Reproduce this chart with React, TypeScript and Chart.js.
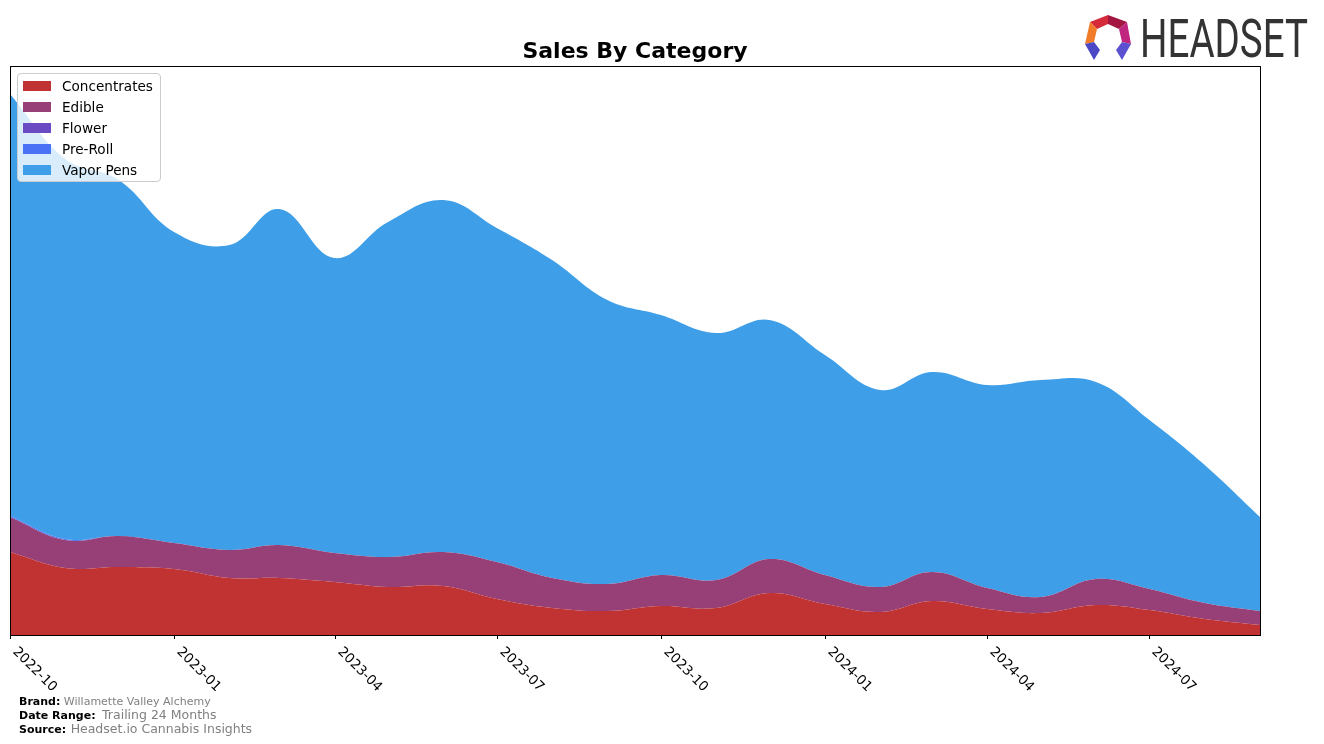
import React, { useEffect, useRef } from "react";
import { Chart, registerables } from "chart.js";

Chart.register(...registerables);

const months = [
  "2022-10", "2022-11", "2022-12", "2023-01", "2023-02", "2023-03",
  "2023-04", "2023-05", "2023-06", "2023-07", "2023-08", "2023-09",
  "2023-10", "2023-11", "2023-12", "2024-01", "2024-02", "2024-03",
  "2024-04", "2024-05", "2024-06", "2024-07", "2024-08", "2024-09",
];
const tickLabels = ["2022-10", "2023-01", "2023-04", "2023-07", "2023-10", "2024-01", "2024-04", "2024-07"];

const concentrates = [83, 67, 68, 66, 57, 57, 53, 48, 49, 36, 27, 24, 29, 27, 42, 31, 23, 34, 26, 22, 30, 25, 16, 10];
const edible = [35, 28, 31, 26, 28, 33, 29, 30, 34, 37, 30, 27, 31, 28, 34, 29, 25, 29, 21, 16, 26, 21, 16, 14];
const flower = [0, 0, 0, 0, 0, 0, 0, 0, 0, 0, 0, 0, 0, 0, 0, 0, 0, 0, 0, 0, 0, 0, 0, 0];
const preRoll = [1, 1, 0, 0, 0, 0, 0, 0, 0, 0, 0, 0, 0, 0, 0, 0, 0, 0, 0, 0, 0, 0, 0, 0];
const vaporPens = [422, 380, 356, 311, 305, 336, 295, 335, 352, 334, 318, 284, 260, 247, 239, 220, 197, 200, 203, 217, 197, 169, 138, 94];

const seriesNames = ["Concentrates", "Edible", "Flower", "Pre-Roll", "Vapor Pens"];
const seriesColors = ["#C13333", "#974077", "#6A4BC4", "#4A72F5", "#3E9FE8"];

const dayOf = (m: string) => {
  const [y, mo] = m.split("-").map(Number);
  return (Date.UTC(y, mo - 1, 1) - Date.UTC(2022, 9, 1)) / 86400000;
};

const framePlugin = {
  id: "frame",
  afterDraw(chart: any) {
    const { ctx, chartArea } = chart;
    const xs = chart.scales.x;
    ctx.save();
    ctx.strokeStyle = "#000";
    ctx.lineWidth = 1;
    ctx.strokeRect(Math.round(chartArea.left) + 0.5, Math.round(chartArea.top) + 0.5,
      Math.round(chartArea.right - chartArea.left), Math.round(chartArea.bottom - chartArea.top));
    ctx.font = "13.5px 'DejaVu Sans'";
    ctx.fillStyle = "#000";
    ctx.textAlign = "left";
    ctx.textBaseline = "top";
    tickLabels.forEach((t) => {
      const px = Math.round(xs.getPixelForValue(dayOf(t))) + 0.5;
      ctx.beginPath();
      ctx.moveTo(px, chartArea.bottom);
      ctx.lineTo(px, chartArea.bottom + 4);
      ctx.stroke();
      ctx.save();
      ctx.translate(px + 9, chartArea.bottom + 10);
      ctx.rotate(Math.PI / 4);
      ctx.fillText(t, 0, 0);
      ctx.restore();
    });
    ctx.restore();
  },
};

function SalesChart() {
  const ref = useRef<HTMLCanvasElement>(null);
  useEffect(() => {
    if (!ref.current) return;
    const values = [concentrates, edible, flower, preRoll, vaporPens];
    const chart = new Chart(ref.current, {
      type: "line",
      data: {
        datasets: seriesNames.map((name, i) => ({
          label: name,
          data: months.map((m, j) => ({ x: dayOf(m), y: values[i][j] })),
          backgroundColor: seriesColors[i],
          borderColor: seriesColors[i],
          borderWidth: 0,
          pointRadius: 0,
          fill: i === 0 ? "origin" : "-1",
          tension: 0.4,
        })),
      },
      options: {
        responsive: false,
        animation: false,
        layout: { padding: { left: 10, top: 66, right: 64, bottom: 109 } },
        plugins: { legend: { display: false }, tooltip: { enabled: false }, title: { display: false } },
        scales: {
          x: { type: "linear", display: false, min: 0, max: dayOf("2024-09") },
          y: { display: false, stacked: true, min: 0, max: 569 },
        },
      },
      plugins: [framePlugin],
    });
    return () => chart.destroy();
  }, []);
  return <canvas ref={ref} width={1324} height={744} style={{ position: "absolute", left: 0, top: 0 }} />;
}

export default function App() {
  const font = "'DejaVu Sans', sans-serif";
  return (
    <div style={{ position: "absolute", left: 0, top: 0, width: 1324, height: 744, background: "#fff", fontFamily: font, overflow: "hidden" }}>
      <SalesChart />
      <div style={{ position: "absolute", left: 0, width: 1270, top: 38, textAlign: "center", fontWeight: "bold", fontSize: 22, lineHeight: "26px" }}>
        Sales By Category
      </div>
      <div style={{ position: "absolute", left: 17, top: 73, width: 142, height: 107, border: "1px solid #cccccc", borderRadius: 4, background: "rgba(255,255,255,0.8)" }}>
        {seriesNames.map((n, i) => (
          <div key={n} style={{ position: "absolute", left: 5, top: 6 + i * 21, height: 12, display: "flex", alignItems: "center" }}>
            <span style={{ display: "inline-block", width: 28, height: 10, background: seriesColors[i] }} />
            <span style={{ marginLeft: 11, fontSize: 13.6, lineHeight: "12px" }}>{n}</span>
          </div>
        ))}
      </div>
      <div style={{ position: "absolute", left: 19, top: 695, fontSize: 11, lineHeight: "13px" }}>
        <div><b>Brand:</b> <span style={{ color: "#808080", fontSize: 11 }}>Willamette Valley Alchemy</span></div>
        <div><b>Date Range:</b> <span style={{ color: "#808080", fontSize: 12.5, marginLeft: 3 }}>Trailing 24 Months</span></div>
        <div><b>Source:</b> <span style={{ color: "#808080", fontSize: 12.5, marginLeft: 1 }}>Headset.io Cannabis Insights</span></div>
      </div>
      <svg width={1324} height={70} style={{ position: "absolute", left: 0, top: 0 }}>
        <polygon points="1090,22 1108,15 1108,24 1097,29" fill="#D42A3A" />
        <polygon points="1108,15 1127,22 1119,29 1108,24" fill="#A3163F" />
        <polygon points="1090,22 1097,29 1094,42 1085,44" fill="#F07C2A" />
        <polygon points="1127,22 1131,44 1122,42 1119,29" fill="#C0267F" />
        <polygon points="1085,44 1094,42 1100,50 1094,60" fill="#4B48C6" />
        <polygon points="1131,44 1122,42 1116,50 1122,60" fill="#5A50D0" />
        <text x={1140} y={57} fontFamily="Roboto, sans-serif" fontSize={54} fill="#333333" textLength={168} lengthAdjust="spacingAndGlyphs">HEADSET</text>
      </svg>
    </div>
  );
}
